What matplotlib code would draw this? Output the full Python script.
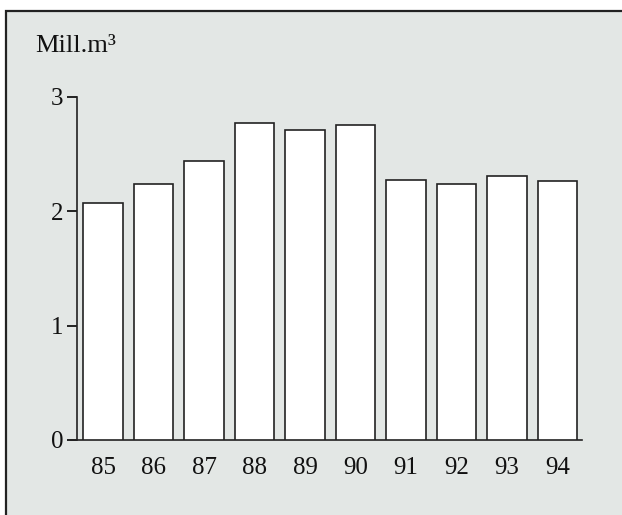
import numpy as np
import matplotlib.pyplot as plt
from matplotlib.patches import Rectangle

plt.rcParams['font.family'] = ['Liberation Serif', 'DejaVu Serif']

years = ['85', '86', '87', '88', '89', '90', '91', '92', '93', '94']
volume = [2.07, 2.24, 2.44, 2.77, 2.71, 2.75, 2.27, 2.24, 2.31, 2.26]
yticks = [0, 1, 2, 3]

W, H = 622, 515
fig = plt.figure(figsize=(W / 100, H / 100), dpi=100, facecolor='white')

# grey panel with frame on left and top
bg = '#e3e7e5'
fig.patches.append(Rectangle((6 / W, -0.1), 1.2, 1.1 - 11 / H, transform=fig.transFigure,
                             facecolor=bg, edgecolor='#222222', lw=1.6, zorder=0))

ax = fig.add_axes([77 / W, 75 / H, 505 / W, 343.5 / H])
ax.set_zorder(2)
ax.set_facecolor('none')

x = np.arange(len(years))
ax.bar(x, volume, width=0.79, color='white', edgecolor='#222222', lw=1.2, zorder=3)

ax.set_xlim(-0.515, 9.485)
ax.set_ylim(0, 3)
ax.set_yticks(yticks)
ax.set_xticks(x)
ax.set_xticklabels(years)

for s in ['top', 'right']:
    ax.spines[s].set_visible(False)
for s in ['left', 'bottom']:
    ax.spines[s].set_linewidth(1.2)
    ax.spines[s].set_color('#222222')
ax.spines['bottom'].set_bounds(-0.64, 9.485)

ax.tick_params(axis='y', length=7, width=1.2, pad=3, labelsize=18, labelcolor='#111111')
ax.tick_params(axis='x', length=0, pad=12, labelsize=18, labelcolor='#111111')

fig.text(35 / W, 1 - 52 / H, 'Mill.m³', fontsize=19, ha='left', va='baseline',
         color='#111111', zorder=3)

fig.savefig('out.png', dpi=100)
